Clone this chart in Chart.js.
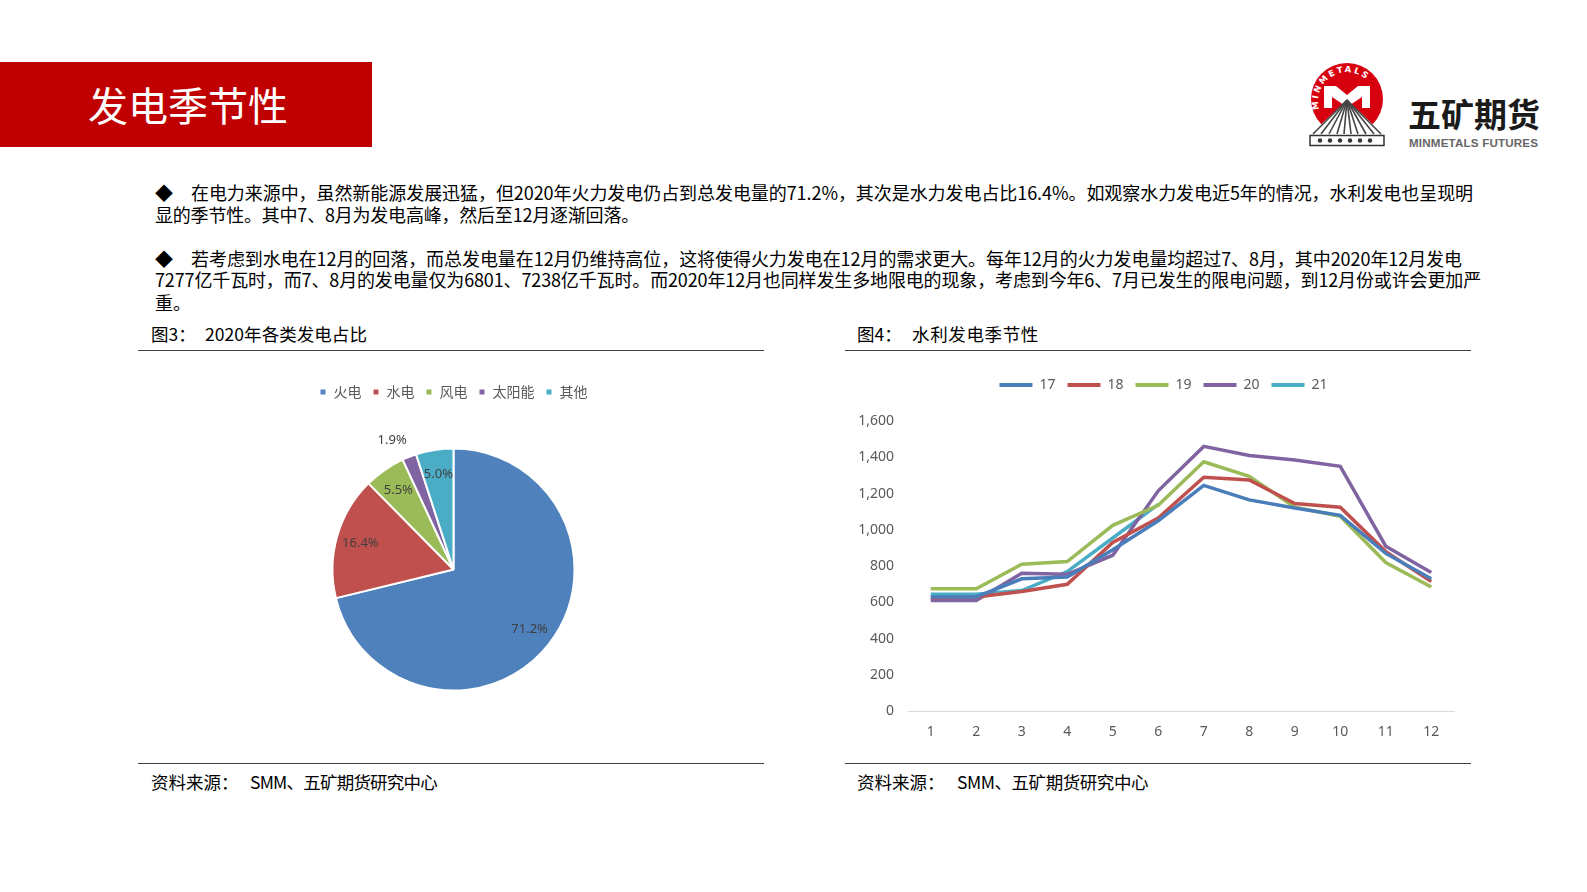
<!DOCTYPE html>
<html>
<head>
<meta charset="utf-8">
<script src="https://cdn.jsdelivr.net/npm/chart.js@4/dist/chart.umd.min.js"></script>
<style>
  body { margin: 0; background: #fff; font-family: "Noto Sans CJK SC", "Noto Sans", sans-serif; }
  #page { position: relative; width: 1587px; height: 892px; overflow: hidden; }
  .abs { position: absolute; }
  #banner { left: 0; top: 62px; width: 372px; height: 85px; background: #C00000; }
  #banner span { position: absolute; left: 88px; top: 18px; color: #fff; font-size: 40px; line-height: 48px; }
  .t { position: absolute; white-space: nowrap; color: #000; }
  .body { font-size: 18px; line-height: 22px; }
  .cap { font-size: 17.5px; line-height: 20px; }
  .rule { position: absolute; height: 0; border-top: 1.5px solid #404040; }
  canvas { position: absolute; }
</style>
</head>
<body>
<div id="page">
  <div id="banner" class="abs"><span>发电季节性</span></div>

  <!-- logo -->
  <svg class="abs" style="left:0;top:0" width="1587" height="160">
    <defs>
      <path id="ring" d="M 1321.5 115 A 29 29 0 1 1 1372.5 115" />
    </defs>
    <circle cx="1347" cy="99" r="36" fill="#D7000F" />
    <text fill="#fff" font-family="DejaVu Sans" font-weight="bold" font-size="8.5" letter-spacing="2.2">
      <textPath href="#ring" startOffset="6">MINMETALS</textPath>
    </text>
    <polygon points="1324,108 1324,86 1336,86 1347,95 1358,86 1370,86 1370,108 1362,108 1362,97 1347,107 1332,97 1332,108" fill="#fff" />
    <polygon points="1347,100 1310,135 1384,135" fill="#fff" />
    <g stroke="#444" stroke-width="1.6">
      <line x1="1347" y1="100" x2="1313" y2="134" />
      <line x1="1347" y1="100" x2="1321" y2="134" />
      <line x1="1347" y1="100" x2="1329" y2="134" />
      <line x1="1347" y1="100" x2="1337" y2="134" />
      <line x1="1347" y1="100" x2="1344" y2="134" />
      <line x1="1347" y1="100" x2="1351" y2="134" />
      <line x1="1347" y1="100" x2="1358" y2="134" />
      <line x1="1347" y1="100" x2="1366" y2="134" />
      <line x1="1347" y1="100" x2="1374" y2="134" />
      <line x1="1347" y1="100" x2="1381" y2="134" />
    </g>
    <rect x="1310" y="135.5" width="74" height="10" fill="#fff" stroke="#333" stroke-width="1.5" />
    <g fill="#333">
      <circle cx="1320" cy="140.5" r="2.2" /><circle cx="1330" cy="140.5" r="2.2" />
      <circle cx="1340" cy="140.5" r="2.2" /><circle cx="1350" cy="140.5" r="2.2" />
      <circle cx="1360" cy="140.5" r="2.2" /><circle cx="1370" cy="140.5" r="2.2" />
    </g>
    <text x="1408" y="127" font-family="Noto Sans CJK SC" font-weight="bold" font-size="33" fill="#1a1a1a">五矿期货</text>
    <text x="1409" y="147" font-family="Liberation Sans" font-weight="bold" font-size="11.6" fill="#666" textLength="129">MINMETALS FUTURES</text>
  </svg>

  <!-- body text (data-w = width the line is spread to) -->
  <div class="t body" style="left:155px;top:181px">◆</div>
  <div class="t body" style="left:191px;top:181px" data-w="1282">在电力来源中，虽然新能源发展迅猛，但2020年火力发电仍占到总发电量的71.2%，其次是水力发电占比16.4%。如观察水力发电近5年的情况，水利发电也呈现明</div>
  <div class="t body" style="left:155px;top:203px" data-w="484">显的季节性。其中7、8月为发电高峰，然后至12月逐渐回落。</div>
  <div class="t body" style="left:155px;top:247px">◆</div>
  <div class="t body" style="left:191px;top:247px" data-w="1271">若考虑到水电在12月的回落，而总发电量在12月仍维持高位，这将使得火力发电在12月的需求更大。每年12月的火力发电量均超过7、8月，其中2020年12月发电</div>
  <div class="t body" style="left:155px;top:268px" data-w="1326">7277亿千瓦时，而7、8月的发电量仅为6801、7238亿千瓦时。而2020年12月也同样发生多地限电的现象，考虑到今年6、7月已发生的限电问题，到12月份或许会更加严</div>
  <div class="t body" style="left:155px;top:291px">重。</div>

  <!-- captions and rules -->
  <div class="t cap" style="left:151px;top:324px">图3：</div>
  <div class="t cap" style="left:205px;top:324px" data-w="162">2020年各类发电占比</div>
  <div class="t cap" style="left:857px;top:324px">图4：</div>
  <div class="t cap" style="left:912px;top:324px" data-w="127">水利发电季节性</div>
  <div class="rule" style="left:138px;top:350px;width:626px"></div>
  <div class="rule" style="left:845px;top:350px;width:626px"></div>
  <div class="rule" style="left:138px;top:763px;width:626px"></div>
  <div class="rule" style="left:845px;top:763px;width:626px"></div>
  <div class="t cap" style="left:151px;top:772px">资料来源：</div>
  <div class="t cap" style="left:250px;top:772px" data-w="187">SMM、五矿期货研究中心</div>
  <div class="t cap" style="left:857px;top:772px">资料来源：</div>
  <div class="t cap" style="left:957px;top:772px" data-w="191">SMM、五矿期货研究中心</div>

  <canvas id="pieChart" style="left:138px;top:360px" width="626" height="400"></canvas>
  <canvas id="lineChart" style="left:845px;top:360px" width="626" height="395"></canvas>
</div>

<script>
// Pie data: share of power generation in 2020 (%)
const pieLabels = ['火电', '水电', '风电', '太阳能', '其他'];
const pieValues = [71.2, 16.4, 5.5, 1.9, 5.0];
const pieColors = ['#4F81BD', '#C0504D', '#9BBB59', '#8064A2', '#4BACC6'];

// Line data: monthly hydro generation by year
const months = ['1', '2', '3', '4', '5', '6', '7', '8', '9', '10', '11', '12'];
const years = ['17', '18', '19', '20', '21'];
const hydro17 = [630, 630, 730, 740, 890, 1050, 1245, 1165, 1120, 1080, 870, 730];
const hydro18 = [625, 630, 660, 700, 930, 1065, 1290, 1275, 1145, 1125, 880, 715];
const hydro19 = [675, 675, 810, 825, 1025, 1135, 1375, 1295, 1125, 1075, 820, 685];
const hydro20 = [610, 610, 760, 755, 860, 1215, 1460, 1410, 1385, 1350, 910, 765];
const hydro21 = [645, 645, 665, 770, 955, 1140];
const lineColors = ['#4A7EBB', '#C0504D', '#9BBB59', '#8064A2', '#4BACC6'];
const yTicks = [0, 200, 400, 600, 800, 1000, 1200, 1400, 1600];

// spread text lines to their target width
document.querySelectorAll('[data-w]').forEach(el => {
    const target = +el.dataset.w;
    const n = el.textContent.length;
    const natural = el.getBoundingClientRect().width;
    el.style.letterSpacing = ((target - natural) / n) + 'px';
});

Chart.defaults.font.family = '"Noto Sans", "Noto Sans CJK SC", sans-serif';
Chart.defaults.color = '#595959';
Chart.defaults.animation = false;

// Percent labels on the pie slices
const sliceLabels = {
    id: 'sliceLabels',
    afterDatasetsDraw(chart) {
        const ctx = chart.ctx;
        const meta = chart.getDatasetMeta(0);
        const values = chart.data.datasets[0].data;
        ctx.save();
        ctx.font = '13px "Noto Sans"';
        ctx.fillStyle = '#404040';
        ctx.textAlign = 'center';
        ctx.textBaseline = 'middle';
        meta.data.forEach((arc, i) => {
            let mid = (arc.startAngle + arc.endAngle) / 2;
            let r = arc.outerRadius * 0.8;
            // small slices get their label outside
            if (values[i] < 3) {
                r = arc.outerRadius * 1.18;
                mid -= 0.07;
            }
            ctx.fillText(values[i].toFixed(1) + '%', arc.x + Math.cos(mid) * r, arc.y + Math.sin(mid) * r);
        });
        ctx.restore();
    }
};

// Extra space under the legend, and a sideways nudge of it
function legendTweak(gap, shift) {
    return {
        id: 'legendTweak',
        beforeInit(chart) {
            const legend = chart.legend;
            const fit = legend.fit;
            legend.fit = function () {
                fit.call(this);
                this.height += gap;
            };
            const draw = legend.draw;
            legend.draw = function () {
                this.ctx.save();
                this.ctx.translate(shift, 0);
                draw.call(this);
                this.ctx.restore();
            };
        }
    };
}

new Chart(document.getElementById('pieChart').getContext('2d'), {
    type: 'pie',
    data: {
        labels: pieLabels,
        datasets: [{
            data: pieValues,
            backgroundColor: pieColors,
            borderColor: '#fff',
            borderWidth: 2,
            radius: 121
        }]
    },
    options: {
        responsive: false,
        layout: { padding: { top: 14, bottom: 30, left: 5 } },
        plugins: {
            legend: {
                position: 'top',
                labels: {
                    boxWidth: 7,
                    boxHeight: 7,
                    padding: 11,
                    color: '#595959',
                    font: { size: 14, family: '"Noto Sans CJK SC"' }
                }
            },
            tooltip: { enabled: false }
        }
    },
    plugins: [sliceLabels]
});

const seriesData = [hydro17, hydro18, hydro19, hydro20, hydro21];

new Chart(document.getElementById('lineChart').getContext('2d'), {
    type: 'line',
    data: {
        labels: months,
        datasets: years.map((y, i) => ({
            label: y,
            data: seriesData[i],
            borderColor: lineColors[i],
            backgroundColor: lineColors[i],
            borderWidth: 3.5,
            pointRadius: 0,
            tension: 0,
            fill: false
        }))
    },
    options: {
        responsive: false,
        layout: { padding: { top: 6, right: 17, bottom: 3, left: 0 } },
        scales: {
            x: {
                offset: true,
                grid: { display: false, drawTicks: false },
                border: { display: true, color: '#D9D9D9', width: 1 },
                ticks: { padding: 12, font: { size: 14 }, color: '#595959' }
            },
            y: {
                min: 0,
                max: 1600,
                afterBuildTicks(scale) {
                    scale.ticks = yTicks.map(v => ({ value: v }));
                },
                afterFit(scale) {
                    scale.width = 63;
                },
                grid: { display: false, drawTicks: false },
                border: { display: false },
                ticks: {
                    padding: 14,
                    font: { size: 14 },
                    color: '#595959',
                    callback: v => v.toLocaleString('en-US')
                }
            }
        },
        plugins: {
            legend: {
                position: 'top',
                labels: {
                    boxWidth: 33,
                    boxHeight: 4,
                    padding: 12,
                    color: '#595959',
                    font: { size: 14 },
                    generateLabels(chart) {
                        return Chart.defaults.plugins.legend.labels.generateLabels(chart)
                            .map(l => Object.assign(l, { lineWidth: 0, fillStyle: l.strokeStyle }));
                    }
                }
            },
            tooltip: { enabled: false }
        }
    },
    plugins: [legendTweak(19, 14)]
});
</script>
</body>
</html>
